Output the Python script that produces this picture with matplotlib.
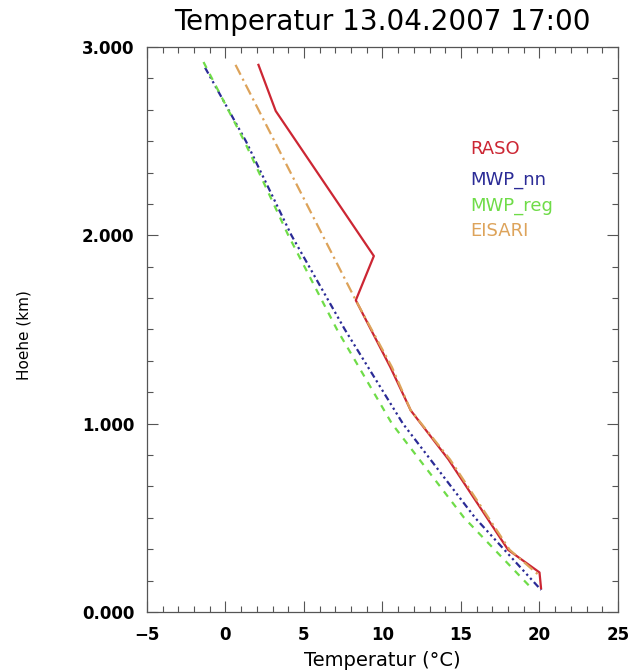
import numpy as np
import matplotlib
matplotlib.use('Agg')
import matplotlib.pyplot as plt
from matplotlib.ticker import MultipleLocator, FormatStrFormatter

# Profile data (temperature in degC, height in km)
raso_h = [2.905, 2.66, 1.89, 1.655, 1.30, 1.07, 0.81, 0.33, 0.21, 0.125]
raso_t = [2.1, 3.2, 9.45, 8.3, 10.5, 11.8, 14.2, 18.0, 20.0, 20.1]

nn_h = [2.89, 2.5, 2.0, 1.5, 1.0, 0.5, 0.117]
nn_t = [-1.3, 1.3, 4.2, 7.6, 11.3, 15.9, 20.1]

reg_h = [2.92, 2.5, 2.0, 1.5, 1.0, 0.5, 0.134]
reg_t = [-1.4, 1.2, 4.0, 7.1, 10.6, 15.2, 19.4]

eisar_h = [2.905, 1.655, 1.30, 1.07, 0.81, 0.33, 0.20]
eisar_t = [0.64, 8.3, 10.6, 11.8, 14.3, 18.1, 19.9]

labels = ['RASO', 'MWP_nn', 'MWP_reg', 'EISARI']
colors = ['#cc2633', '#2b2b96', '#6fdc48', '#dda35a']

x_ticks = [-5, 0, 5, 10, 15, 20, 25]
y_ticks = [0, 1, 2, 3]

fig = plt.figure(figsize=(6.36, 6.70), dpi=100)
ax = fig.add_axes([0.2311, 0.0866, 0.7406, 0.8433])

ax.plot(raso_t, raso_h, color=colors[0], lw=1.6, linestyle='-')
ax.plot(eisar_t, eisar_h, color=colors[3], lw=1.6, linestyle=(0, (5, 2, 1, 2)))
ax.plot(nn_t, nn_h, color=colors[1], lw=1.6, linestyle=(0, (3, 1.5, 1, 1.5, 1, 1.5, 1, 1.5)))
ax.plot(reg_t, reg_h, color=colors[2], lw=1.6, linestyle=(0, (3, 3)))

ax.set_xlim(-5, 25)
ax.set_ylim(0, 3)
ax.set_xticks(x_ticks)
ax.set_yticks(y_ticks)
ax.xaxis.set_minor_locator(MultipleLocator(1))
ax.yaxis.set_minor_locator(MultipleLocator(1 / 6))
ax.yaxis.set_major_formatter(FormatStrFormatter('%.3f'))

ax.tick_params(which='both', direction='in', top=True, right=True, colors='#555555',
               labelcolor='black')
ax.tick_params(which='major', length=8, width=0.8)
ax.tick_params(which='minor', length=4, width=0.8)
ax.tick_params(axis='x', which='major', pad=10, labelsize=12)
ax.tick_params(axis='y', which='major', pad=9, labelsize=12)
for lab in ax.get_xticklabels() + ax.get_yticklabels():
    lab.set_fontweight('bold')
for sp in ax.spines.values():
    sp.set_color('#555555')
    sp.set_linewidth(0.9)

ax.set_title('Temperatur 13.04.2007 17:00', fontsize=20, pad=12)
ax.set_xlabel('Temperatur (°C)', fontsize=14, labelpad=5)
ax.set_ylabel('Hoehe (km)', fontsize=11)
ax.yaxis.set_label_coords(-0.245, 0.49)

# labels written in the plot like the original
text_y = [0.819, 0.765, 0.719, 0.674]
for lab, col, ty in zip(labels, colors, text_y):
    ax.text(0.686, ty, lab, color=col, fontsize=13, transform=ax.transAxes,
            va='center', ha='left')

fig.savefig('out.png', dpi=100)
